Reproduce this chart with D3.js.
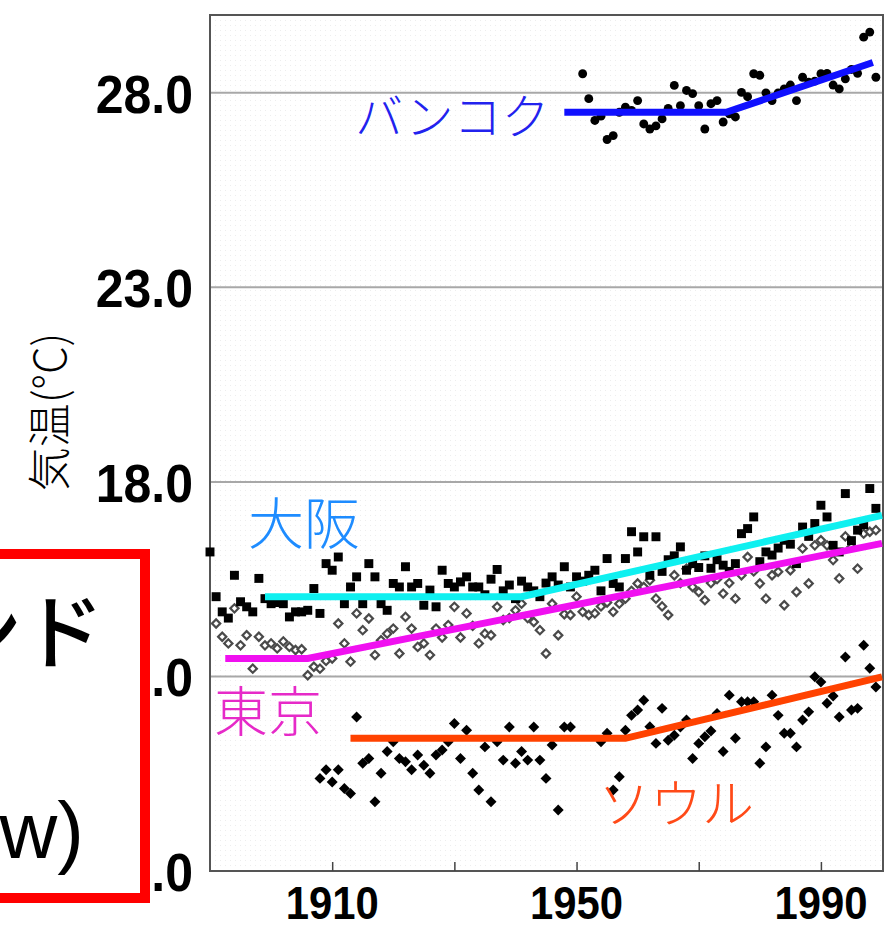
<!DOCTYPE html>
<html>
<head>
<meta charset="utf-8">
<script src="https://cdn.jsdelivr.net/npm/d3@7"></script>
<style>
  body { margin: 0; background: #fff; }
  svg { display: block; }
</style>
</head>
<body>
<div id="my_dataviz"></div>
<script>
// annual mean temperature [year, degC]
var osaka = [
  [1890,16.2],[1891,15.05],[1892,14.66],[1893,14.5],[1894,15.6],[1895,14.92],[1896,14.79],[1897,14.66],[1898,15.52],[1899,15.0],
  [1900,14.87],[1901,14.9],[1902,14.87],[1903,14.53],[1904,14.66],[1905,14.66],[1906,14.7],[1907,15.26],[1908,14.62],[1909,15.9],
  [1910,15.73],[1911,16.07],[1912,14.87],[1913,15.3],[1914,15.56],[1915,14.87],[1916,15.9],[1917,15.56],[1918,14.87],[1919,14.7],
  [1920,15.39],[1921,15.3],[1922,15.82],[1923,15.3],[1924,15.39],[1925,14.83],[1926,15.22],[1927,14.79],[1928,15.73],[1929,15.39],
  [1930,15.3],[1931,15.43],[1932,15.56],[1933,15.3],[1934,15.3],[1935,15.1],[1936,15.5],[1937,15.75],[1938,15.2],[1939,15.35],
  [1940,15.0],[1941,15.45],[1942,15.3],[1943,15.2],[1944,15.05],[1945,15.4],[1946,15.56],[1947,15.35],[1948,15.82],[1949,15.3],
  [1950,15.56],[1951,15.45],[1952,15.6],[1953,15.73],[1954,15.2],[1955,16.03],[1956,15.39],[1957,15.3],[1958,16.03],[1959,16.72],
  [1960,16.2],[1961,16.59],[1962,15.6],[1963,16.59],[1964,15.7],[1965,16.0],[1966,16.1],[1967,16.33],[1968,15.73],[1969,15.9],
  [1970,15.8],[1971,16.1],[1972,15.78],[1973,16.0],[1974,15.86],[1975,15.7],[1976,15.9],[1977,16.67],[1978,16.8],[1979,17.1],
  [1980,15.95],[1981,16.2],[1982,16.12],[1983,16.3],[1984,16.5],[1985,16.4],[1986,15.9],[1987,16.84],[1988,16.6],[1989,16.93],
  [1990,17.4],[1991,17.1],[1992,16.37],[1993,16.2],[1994,17.7],[1995,16.49],[1996,16.76],[1997,16.9],[1998,17.83],[1999,17.32]
]

var tokyo = [
  [1891,14.36],[1892,14.02],[1893,13.85],[1894,14.75],[1895,13.8],[1896,14.06],[1897,13.2],[1898,14.02],[1899,13.8],
  [1900,13.85],[1901,13.72],[1902,13.9],[1903,13.76],[1904,13.68],[1905,13.7],[1906,13.03],[1907,13.25],[1908,13.2],[1909,13.4],
  [1910,13.46],[1911,14.36],[1912,13.85],[1913,13.38],[1914,14.62],[1915,14.19],[1916,14.49],[1917,13.55],[1918,13.93],[1919,14.1],
  [1920,14.23],[1921,13.59],[1922,14.53],[1923,14.23],[1924,13.76],[1925,13.85],[1926,13.55],[1927,14.23],[1928,14.0],[1929,14.32],
  [1930,14.79],[1931,14.0],[1932,14.62],[1933,14.3],[1934,13.85],[1935,14.1],[1936,14.06],[1937,14.79],[1938,14.45],[1939,14.5],
  [1940,14.7],[1941,14.87],[1942,14.5],[1943,14.4],[1944,14.19],[1945,13.59],[1946,14.87],[1947,14.06],[1948,14.6],[1949,14.58],
  [1950,15.05],[1951,14.66],[1952,14.58],[1953,14.62],[1954,14.8],[1955,14.9],[1956,14.66],[1957,14.87],[1958,15.0],[1959,15.2],
  [1960,15.39],[1961,15.3],[1962,15.47],[1963,15.0],[1964,14.8],[1965,14.58],[1966,15.6],[1967,15.4],[1968,15.77],[1969,15.3],
  [1970,15.17],[1971,14.96],[1972,15.4],[1973,15.5],[1974,15.13],[1975,15.4],[1976,15.0],[1977,15.6],[1978,16.07],[1979,15.7],
  [1980,15.39],[1981,15.0],[1982,15.6],[1983,15.69],[1984,14.83],[1985,15.73],[1986,15.17],[1987,16.29],[1988,15.39],[1989,16.37],
  [1990,16.5],[1991,16.37],[1992,15.99],[1993,15.52],[1994,16.6],[1995,16.33],[1996,15.77],[1997,16.67],[1998,16.72],[1999,16.76]
]

var seoul = [
  [1908,10.38],[1909,10.6],[1910,10.29],[1911,10.6],[1912,10.12],[1913,9.99],[1914,11.96],[1915,10.77],[1916,10.89],[1917,9.78],
  [1918,10.51],[1919,11.07],[1920,11.32],[1921,10.89],[1922,10.81],[1923,10.6],[1924,10.98],[1925,10.72],[1926,10.51],[1927,10.98],
  [1928,11.11],[1929,11.32],[1930,11.79],[1931,10.89],[1932,11.62],[1933,10.51],[1934,10.08],[1935,11.19],[1936,9.78],[1937,11.32],
  [1938,10.85],[1939,11.7],[1940,10.77],[1941,11.07],[1942,10.85],[1943,11.7],[1944,10.85],[1945,10.38],[1946,11.24],[1947,9.57],
  [1948,11.7],[1949,11.7],[1954,11.32],[1955,11.54],[1956,10.08],[1957,10.42],[1958,11.62],[1959,12.0],[1960,12.14],[1961,12.39],
  [1962,11.71],[1963,11.28],[1964,12.18],[1965,11.36],[1966,11.49],[1967,11.7],[1968,11.88],[1969,10.89],[1970,11.28],[1971,11.45],
  [1972,11.6],[1973,12.05],[1974,11.07],[1975,12.52],[1976,11.41],[1977,12.35],[1978,12.35],[1979,12.35],[1980,10.77],[1981,11.19],
  [1982,12.52],[1983,12.0],[1984,11.54],[1985,11.54],[1986,11.19],[1987,11.88],[1988,12.09],[1989,12.99],[1990,12.86],[1991,12.31],
  [1992,12.5],[1993,11.96],[1994,13.5],[1995,12.14],[1996,12.18],[1997,13.8],[1998,13.21],[1999,12.73]
]

var bangkok = [
  [1951,28.49],[1952,27.85],[1953,27.29],[1954,27.4],[1955,26.8],[1956,26.9],[1957,27.5],[1958,27.63],[1959,27.55],
  [1960,27.8],[1961,27.2],[1962,27.07],[1963,27.15],[1964,27.33],[1965,27.6],[1966,28.19],[1967,27.67],[1968,28.06],[1969,27.98],
  [1970,27.67],[1971,27.07],[1972,27.72],[1973,27.8],[1974,27.25],[1975,27.46],[1976,27.38],[1977,28.01],[1978,27.9],[1979,28.49],
  [1980,28.45],[1981,28.0],[1982,27.8],[1983,28.0],[1984,28.1],[1985,28.2],[1986,27.8],[1987,28.4],[1988,28.27],[1989,28.3],
  [1990,28.49],[1991,28.5],[1992,28.2],[1993,28.1],[1994,28.36],[1995,28.6],[1996,28.5],[1997,29.43],[1998,29.56],[1999,28.4]
]

// trend lines (break points)
var osakaTrend = [[1899,15.05],[1941,15.05],[2000,17.14]]
var tokyoTrend = [[1892.5,13.46],[1906,13.46],[2000,16.42]]
var seoulTrend = [[1913,11.41],[1958,11.41],[2000,12.99]]
var bangkokTrend = [[1948,27.5],[1974.5,27.5],[1998.5,28.78]]

var yTicks = [13, 18, 23, 28]
var yLabels = ['13.0', '18.0', '23.0', '28.0', '8.0']
var yLabelValues = [13, 18, 23, 28, 8]
var xTicks = [1910, 1930, 1950, 1970, 1990]
var xLabelYears = [1910, 1950, 1990]

var width = 884, height = 929
var plot = { left: 210, right: 883, top: 15, bottom: 871 }

var svg = d3.select('#my_dataviz')
  .append('svg')
  .attr('width', width)
  .attr('height', height)

var x = d3.scaleLinear().domain([1890, 2000]).range([plot.left, 882])
var y = d3.scaleLinear().domain([8, 30]).range([plot.bottom, plot.top])

// faint stipple background
var defs = svg.append('defs')
var pat = defs.append('pattern')
  .attr('id', 'dots')
  .attr('width', 5).attr('height', 5)
  .attr('patternUnits', 'userSpaceOnUse')
pat.append('rect').attr('width', 1).attr('height', 1).attr('fill', '#ededed')

svg.append('rect')
  .attr('x', plot.left).attr('y', plot.top)
  .attr('width', plot.right - plot.left).attr('height', plot.bottom - plot.top)
  .attr('fill', 'url(#dots)')

// grid lines
svg.append('g')
  .selectAll('line')
  .data(yTicks)
  .join('line')
  .attr('x1', plot.left).attr('x2', plot.right)
  .attr('y1', d => y(d)).attr('y2', d => y(d))
  .attr('stroke', '#a8a8a8')
  .attr('stroke-width', 2)

// frame
svg.append('rect')
  .attr('x', plot.left).attr('y', plot.top)
  .attr('width', plot.right - plot.left).attr('height', plot.bottom - plot.top)
  .attr('fill', 'none')
  .attr('stroke', '#555')
  .attr('stroke-width', 2)

// x axis ticks (pointing inward) + labels
var xAxis = svg.append('g')
  .attr('transform', 'translate(0,' + plot.bottom + ')')
  .call(d3.axisBottom(x).tickValues(xTicks).tickSize(-9).tickFormat(''))
xAxis.select('.domain').remove()
xAxis.selectAll('line').attr('stroke', '#444').attr('stroke-width', 1.5)

svg.append('g')
  .selectAll('text')
  .data(xLabelYears)
  .join('text')
  .attr('text-anchor', 'middle')
  .attr('font-family', 'Liberation Sans, Arial, sans-serif')
  .attr('font-weight', 'bold')
  .attr('font-size', 45)
  .attr('transform', d => 'translate(' + x(d) + ',919) scale(0.93,1.04)')
  .text(d => d)

// y labels
svg.append('g')
  .selectAll('text')
  .data(yLabelValues)
  .join('text')
  .attr('text-anchor', 'end')
  .attr('font-family', 'Liberation Sans, Arial, sans-serif')
  .attr('font-weight', 'bold')
  .attr('font-size', 50)
  .attr('transform', d => 'translate(193,' + (y(d) + 20) + ') scale(1,1.08)')
  .text((d, i) => yLabels[i])

// y title
svg.append('text')
  .attr('transform', 'translate(66,412) rotate(-90)')
  .attr('text-anchor', 'middle')
  .attr('font-family', 'Noto Sans CJK JP, sans-serif')
  .attr('font-size', 44)
  .attr('font-weight', 300)
  .text('気温(°C)')

// scatter points
function points(data, type, size, rot, fill, stroke) {
  svg.append('g')
    .selectAll('path')
    .data(data)
    .join('path')
    .attr('transform', d => 'translate(' + x(d[0]) + ',' + y(d[1]) + ') rotate(' + rot + ')')
    .attr('d', d3.symbol().type(type).size(size))
    .attr('fill', fill)
    .attr('stroke', stroke)
    .attr('stroke-width', stroke === 'none' ? 0 : 2.2)
}

points(tokyo, d3.symbolSquare, 34, 45, '#fff', '#4a4a4a')
points(osaka, d3.symbolSquare, 80, 0, '#000', 'none')
points(seoul, d3.symbolSquare, 60, 45, '#000', 'none')
points(bangkok, d3.symbolCircle, 62, 0, '#000', 'none')

// trend lines
var line = d3.line().x(d => x(d[0])).y(d => y(d[1]))
function trend(data, color) {
  svg.append('path')
    .datum(data)
    .attr('fill', 'none')
    .attr('stroke', color)
    .attr('stroke-width', 7)
    .attr('d', line)
}
trend(osakaTrend, '#0ff0f0')
trend(tokyoTrend, '#f010f0')
trend(seoulTrend, '#ff4200')
trend(bangkokTrend, '#1010ff')

// city labels
function label(txt, px, py, size, color) {
  svg.append('text')
    .attr('x', px).attr('y', py)
    .attr('dominant-baseline', 'central')
    .attr('font-family', 'Noto Sans CJK JP, sans-serif')
    .attr('font-size', size)
    .attr('font-weight', 300)
    .attr('fill', color)
    .text(txt)
}
label('バンコク', 355, 113, 48, '#2222ee')
label('大阪', 248, 519, 56, '#1e8cff')
label('東京', 214, 708, 54, '#e62ac8')
label('ソウル', 598, 800, 52, '#ff4a18')

// overlapping callout box at left
svg.append('rect')
  .attr('x', -20).attr('y', 554)
  .attr('width', 165).attr('height', 344)
  .attr('fill', '#fff')
  .attr('stroke', '#ff0000')
  .attr('stroke-width', 10)

svg.append('text')
  .attr('x', 104).attr('y', 662)
  .attr('text-anchor', 'end')
  .attr('font-family', 'Noto Sans CJK JP, sans-serif')
  .attr('font-size', 82)
  .attr('font-weight', 500)
  .text('ンド')

svg.append('text')
  .attr('x', 84).attr('y', 858)
  .attr('text-anchor', 'end')
  .attr('font-family', 'Liberation Sans, Arial, sans-serif')
  .attr('font-size', 80)
  .text('w)')
</script>
</body>
</html>
